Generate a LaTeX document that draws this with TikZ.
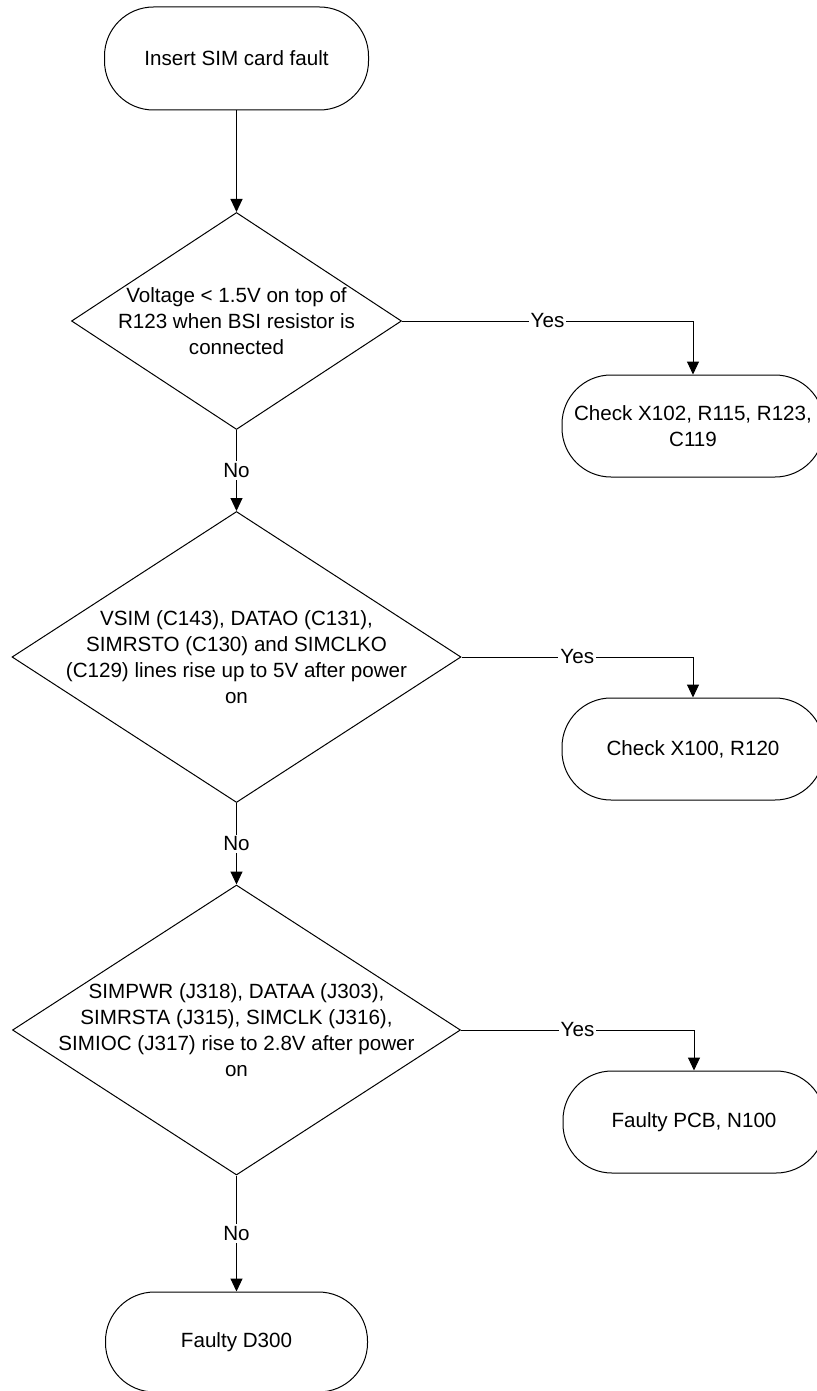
\documentclass[tikz,border=0pt]{standalone}
\usepackage{fontspec}
\setmainfont{Liberation Sans}
\usetikzlibrary{shapes.geometric, arrows.meta}
\newcommand{\flowfont}{\fontsize{10.3}{13}\selectfont}

\begin{document}
\begin{tikzpicture}[x=0.5pt, y=-0.5pt, line width=0.5pt,
  term/.style={rectangle, draw, rounded corners=24.5pt, minimum width=131pt,
               minimum height=51pt, align=center, font=\flowfont},
  decision/.style={diamond, draw, inner sep=0pt},
  dtext/.style={align=center, font=\flowfont, inner sep=0pt},
  arr/.style={-{Triangle[length=6.5pt, width=6pt]}},
  lbl/.style={fill=white, inner sep=1pt, font=\flowfont}
]
  \useasboundingbox (0,0) rectangle (817,1391);

  % Start
  \node[term, minimum width=132pt, minimum height=51.5pt] (start) at (236.5,58.5)
    {Insert SIM card fault};

  % Decisions
  \node[decision, minimum width=165pt, minimum height=108.5pt] (d1) at (236.5,321) {};
  \node[dtext] (t1) at (d1) {Voltage < 1.5V on top of\\R123 when BSI resistor is\\connected};

  \node[decision, minimum width=224.5pt, minimum height=145.5pt] (d2) at (236.5,657) {};
  \node[dtext] (t2) at (d2) {VSIM (C143), DATAO (C131),\\SIMRSTO (C130) and SIMCLKO\\
    (C129) lines rise up to 5V after power\\on};

  \node[decision, minimum width=224pt, minimum height=145pt] (d3) at (236.5,1030) {};
  \node[dtext] (t3) at (d3) {SIMPWR (J318), DATAA (J303),\\SIMRSTA (J315), SIMCLK (J316),\\
    SIMIOC (J317) rise to 2.8V after power\\on};

  % Results
  \node[term] (chk1) at (693,426) {Check X102, R115, R123,\\C119};
  \node[term] (chk2) at (693,749) {Check X100, R120};
  \node[term] (pcb) at (694,1122) {Faulty PCB, N100};
  \node[term, minimum height=50pt] (d300) at (236.5,1342) {Faulty D300};

  % Main line
  \draw[arr] (start) -- (d1);
  \foreach \a/\b in {d1/d2, d2/d3, d3/d300}
    \draw[arr] (\a.south) -- node[lbl] {No} (\b.north);

  % Yes branches
  \foreach \a/\b in {d1/chk1, d2/chk2, d3/pcb}
    \draw[arr] (\a.east) -| node[lbl, pos=0.25] {Yes} (\b.north);
\end{tikzpicture}
\end{document}
